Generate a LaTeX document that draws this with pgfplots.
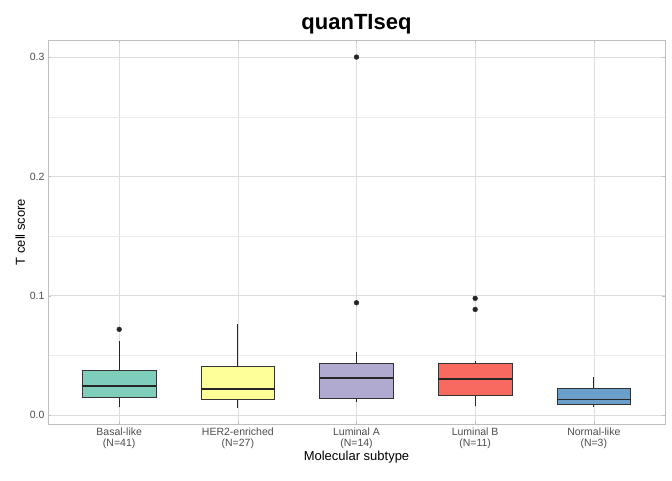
\documentclass[border=0pt]{standalone}
\usepackage{pgfplots}
\pgfplotsset{compat=1.18}
\usepackage{fontspec}
\setmainfont{Liberation Sans}
\definecolor{c1}{HTML}{7FCDBB}
\definecolor{c2}{HTML}{FFFF99}
\definecolor{c3}{HTML}{B0AAD0}
\definecolor{c4}{HTML}{F8695F}
\definecolor{c5}{HTML}{6A9FCB}
\newcommand{\bx}[7]{% pos, lw, q1, med, q3, uw, color
 \addplot[black!85,line width=0.7pt] coordinates {(#1,#2)(#1,#3)};
 \addplot[black!85,line width=0.7pt] coordinates {(#1,#5)(#1,#6)};
 \addplot[fill=#7,draw=black!80,line width=0.7pt] coordinates {(#1-0.31,#3)(#1+0.31,#3)(#1+0.31,#5)(#1-0.31,#5)} -- cycle;
 \addplot[black!85,line width=1.8pt] coordinates {(#1-0.31,#4)(#1+0.31,#4)};
}
\begin{document}
\begin{tikzpicture}
\useasboundingbox (0,0) rectangle (672pt,480pt);
\begin{axis}[at={(48pt,56pt)},anchor=south west,scale only axis,
 width=617pt,height=384pt,
 xmin=0.4,xmax=5.6,ymin=-0.0075,ymax=0.3143,
 xtick={1,2,3,4,5},
 xticklabels={Basal-like\\(N=41),HER2-enriched\\(N=27),Luminal A\\(N=14),Luminal B\\(N=11),Normal-like\\(N=3)},
 xticklabel style={align=center,font=\fontsize{10.5}{11.5}\selectfont,text=black!70},
 ytick={0,0.1,0.2,0.3},minor ytick={0.05,0.15,0.25},
 yticklabels={0.0,0.1,0.2,0.3},
 yticklabel style={font=\fontsize{10.5}{11.5}\selectfont,text=black!70},
 grid=both,major grid style={black!13,line width=0.6pt},minor grid style={black!8,line width=0.4pt},
 axis line style={black!25},tick style={black!25},major tick length=3pt,minor tick length=0pt,
 xlabel={Molecular subtype},ylabel={T cell score},
 label style={font=\fontsize{13}{14}\selectfont},
 xlabel style={yshift=5pt},ylabel style={yshift=-2pt},
 title={\textbf{quanTIseq}},title style={font=\fontsize{22}{24}\selectfont,yshift=-4pt},
 clip=false]
\bx{1}{0.007}{0.0148}{0.0246}{0.0374}{0.0623}{c1}
\bx{2}{0.0059}{0.0134}{0.0218}{0.0408}{0.0763}{c2}
\bx{3}{0.0112}{0.014}{0.0313}{0.0433}{0.0525}{c3}
\bx{4}{0.0073}{0.0162}{0.0299}{0.0436}{0.0453}{c4}
\bx{5}{0.007}{0.0092}{0.0131}{0.0226}{0.0318}{c5}
\addplot[only marks,mark=*,mark size=2.4pt,black!85] coordinates {(1,0.0718)(3,0.0941)(3,0.3)(4,0.0978)(4,0.0885)};
\end{axis}
\end{tikzpicture}
\end{document}
